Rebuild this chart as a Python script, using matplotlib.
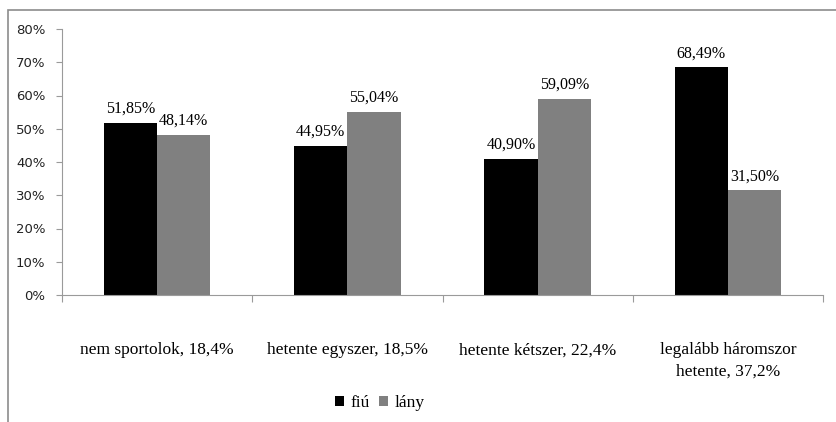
import matplotlib
matplotlib.use("Agg")
import matplotlib.pyplot as plt
import numpy as np
from matplotlib.patches import Rectangle

# data
categories = ["nem sportolok, 18,4%", "hetente egyszer, 18,5%",
              "hetente kétszer, 22,4%", "legalább háromszor\nhetente, 37,2%"]
fiu = [51.85, 44.95, 40.90, 68.49]
lany = [48.14, 55.04, 59.09, 31.50]
fiu_labels = ["51,85%", "44,95%", "40,90%", "68,49%"]
lany_labels = ["48,14%", "55,04%", "59,09%", "31,50%"]
yticks = [0, 10, 20, 30, 40, 50, 60, 70, 80]

serif = "Liberation Serif"
axis_gray = "#9a9a9a"

fig = plt.figure(figsize=(8.36, 4.22), dpi=100)
ax = fig.add_axes([62 / 836, 1 - 295 / 422, (823 - 62) / 836, (295 - 29) / 422])

# outer chart frame (clipped by the image on right / bottom)
fig.patches.append(Rectangle((8 / 836, -0.1), 1.2, 1 - 10 / 422 + 0.1,
                             transform=fig.transFigure, fill=False,
                             edgecolor="#8c8c8c", linewidth=1.2))

x = np.arange(len(categories))
w = 0.28
b1 = ax.bar(x - w / 2, fiu, w, color="black", label="fiú")
b2 = ax.bar(x + w / 2, lany, w, color="#808080", label="lány")

for bars, labels in [(b1, fiu_labels), (b2, lany_labels)]:
    for rect, lab in zip(bars, labels):
        ax.annotate(lab, (rect.get_x() + rect.get_width() / 2, rect.get_height()),
                    xytext=(0, 10), textcoords="offset points",
                    ha="center", va="center", fontsize=11.5, family=serif)

ax.set_xlim(-0.5, len(categories) - 0.5)
ax.set_ylim(0, 80)
ax.set_yticks(yticks)
ax.set_yticklabels([f"{v}%" for v in yticks], fontsize=9.5, color="#222222")
ax.tick_params(axis="y", direction="out", length=4, color=axis_gray, pad=8)

# category labels centred, tick marks at category boundaries
ax.set_xticks(np.arange(-0.5, len(categories), 1.0))
ax.set_xticklabels([])
ax.tick_params(axis="x", direction="out", length=5, color=axis_gray)
for xi, cat in zip(x, categories):
    ax.annotate(cat, (xi, 0), xytext=(0, -34), textcoords="offset points",
                ha="center", va="top", fontsize=12.5, family=serif,
                linespacing=1.45)

for s in ["top", "right"]:
    ax.spines[s].set_visible(False)
for s in ["left", "bottom"]:
    ax.spines[s].set_color(axis_gray)

ax.legend(loc="center", bbox_to_anchor=(380 / 836, 1 - 403 / 422),
          bbox_transform=fig.transFigure, ncol=2, frameon=False,
          prop={"family": serif, "size": 12.5}, handlelength=0.5, handleheight=0.5,
          handletextpad=0.4, columnspacing=0.5)

fig.savefig("out.png", dpi=100)
